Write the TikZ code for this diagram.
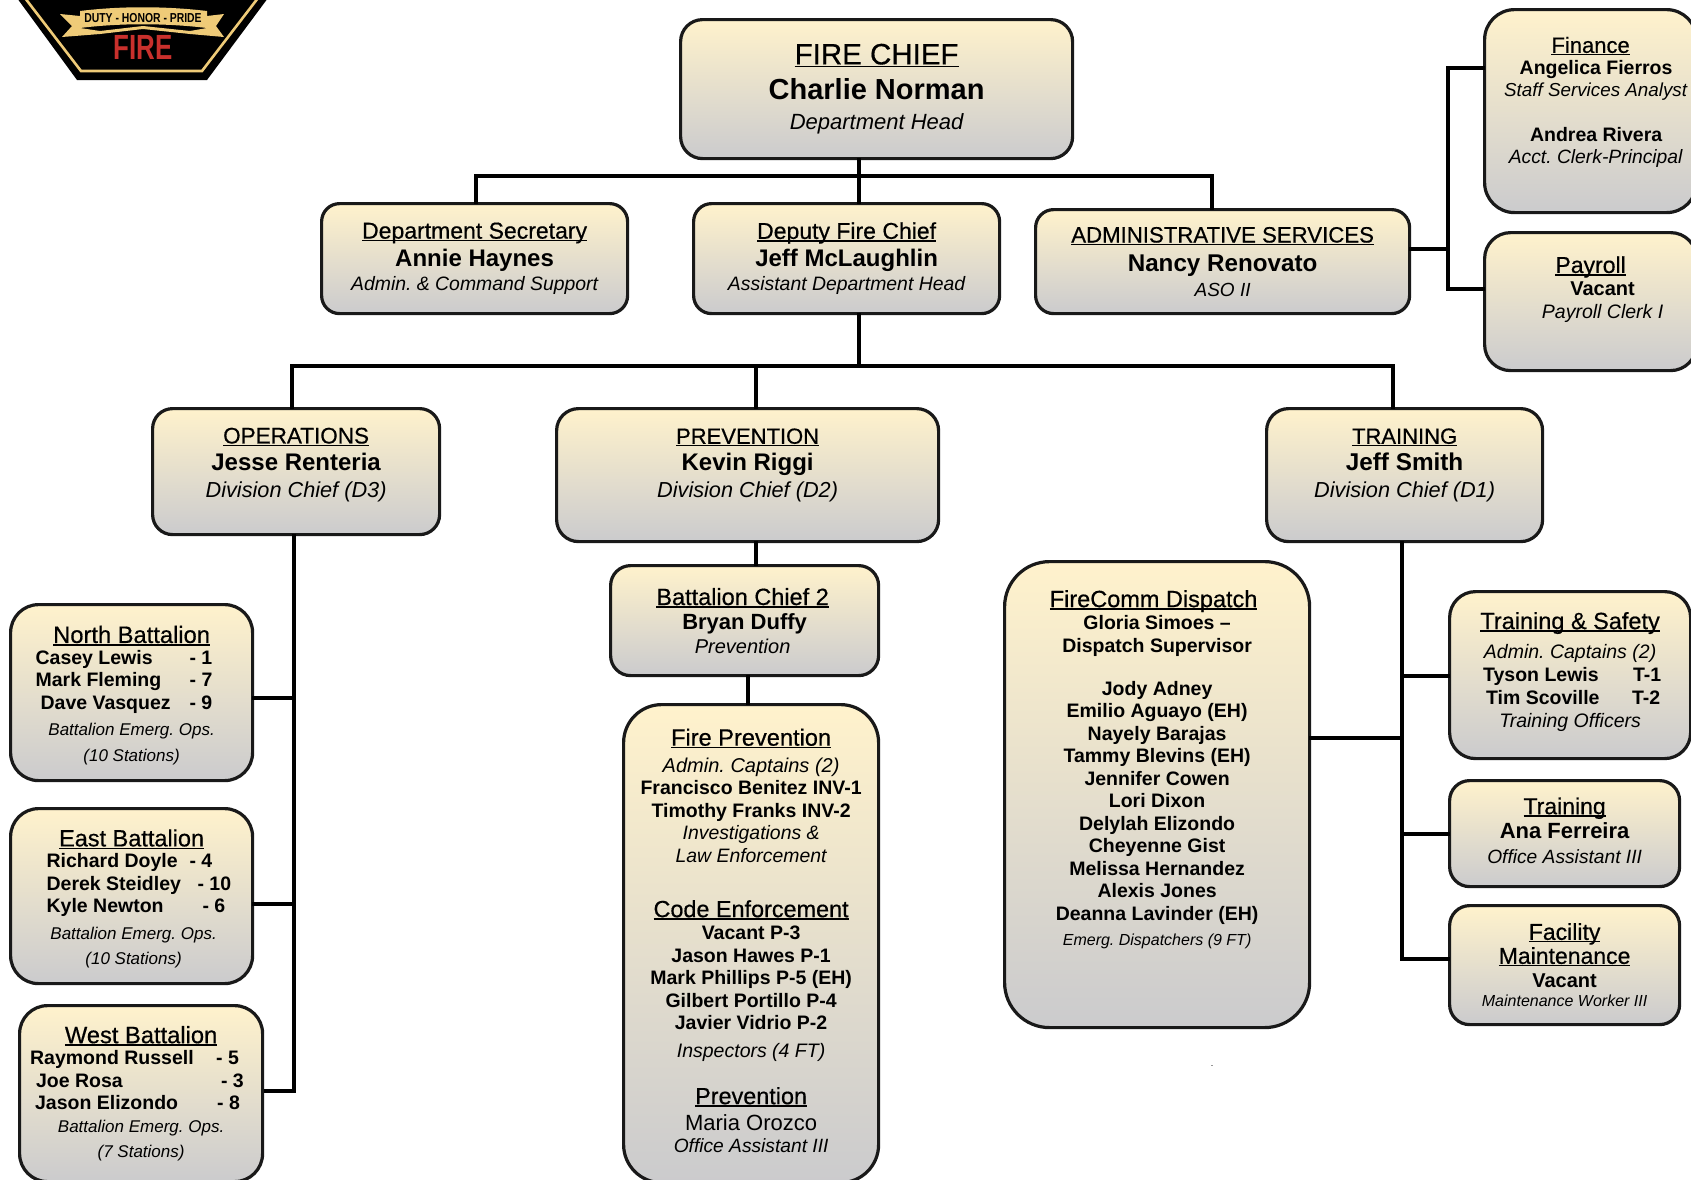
\documentclass[tikz,border=0pt]{standalone}
\usepackage{fontspec}
\setmainfont{Liberation Sans}
\newfontface\ttlface{Liberation Sans}[FakeBold=0.5]
\usetikzlibrary{positioning}
\frenchspacing

\definecolor{boxtop}{HTML}{FFF2CC}
\definecolor{boxbottom}{HTML}{CBCBCD}
\definecolor{badgegold}{HTML}{EFCB78}
\definecolor{badgered}{HTML}{C9302C}

% size only, the line distance stays that of the node
\newlength\ulw
\newcommand\fz[1]{\fontsize{#1}{\baselineskip}\selectfont}
\newcommand\ttl[2]{{\fz{#1}\ttlface\settowidth\ulw{#2}\rlap{\rule[-2.6pt]{\ulw}{1.4pt}}#2}}
\newcommand\nam[2]{{\fz{#1}\bfseries #2}}
\newcommand\rol[2]{{\fz{#1}\itshape #2}}
\newcommand\pad[1]{\\[#1]\mbox{}}
% total width, name start, name, number start, number
\newcommand\rowline[5]{\makebox[#1][l]{\hspace{#2}\rlap{\bfseries #3}\hspace{\dimexpr#4-#2\relax}\textbf{#5}}}

\tikzset{
  orgbox/.style={draw=black!90, line width=3.2pt, rounded corners=#1, top color=boxtop,
    bottom color=boxbottom, align=center, anchor=north west, inner sep=0pt,
    xshift=-1pt, yshift=1pt},
  bls/.style={font=\fontsize{20}{#1}\selectfont},
  conn/.style={line width=4.6pt, line cap=rect, draw=black}
}

\begin{document}
\begin{tikzpicture}[x=1pt,y=-1pt]
  \useasboundingbox (0,0) rectangle (1691,1179);

  % badge
  \fill[black] (17,-2) -- (77,80) -- (207,80) -- (268,-2) -- cycle;
  \draw[badgegold, line width=2.6pt] (25,-2) -- (81,71) -- (202,71) -- (258,-2);
  \fill[badgegold] (60,14) -- (80,16) -- (80,28) -- (100,31) -- (143,26) -- (190,31) -- (207,28) -- (207,16) -- (224,14) -- (216,26) -- (224,37) -- (190,34) -- (143,29) -- (100,34) -- (62,37) -- (72,26) -- cycle;
  \fill[badgegold] (80,11) .. controls (120,6) and (165,6) .. (207,11) -- (207,28) .. controls (165,23) and (120,23) .. (80,28) -- cycle;
  \node[font=\fontsize{13}{14}\selectfont\bfseries, xscale=.8, inner sep=0pt] (motto) at (143,18) {DUTY - HONOR - PRIDE};
  \node[font=\fontsize{35}{36}\selectfont\bfseries, text=badgered, xscale=.74, inner sep=0pt] (firemark) at (143,47) {FIRE};

  % top row
  \node[orgbox=22pt, minimum width=392pt, minimum height=139pt, bls=35pt] (chief) at (680,19)
    {\ttl{29.5}{FIRE CHIEF}\\\nam{29}{Charlie Norman}\\[-4.5pt]\rol{22}{Department Head}};
  \node[orgbox=18pt, minimum width=306pt, minimum height=110pt, bls=24pt] (secretary) at (321,203)
    {\ttl{23}{Department Secretary}\\[4pt]\nam{24}{Annie Haynes}\\\rol{19.4}{Admin. \& Command Support}};
  \node[orgbox=18pt, minimum width=306pt, minimum height=110pt, bls=24pt] (deputy) at (693,203)
    {\ttl{23}{Deputy Fire Chief}\\[4pt]\nam{24}{Jeff McLaughlin}\\\rol{19.4}{Assistant Department Head}};
  \node[orgbox=18pt, minimum width=374pt, minimum height=104pt, bls=25pt] (admin) at (1035,209)
    {\ttl{22.2}{ADMINISTRATIVE SERVICES}\\[3.5pt]\nam{24.2}{Nancy Renovato}\\\rol{19}{ASO II}};
  \node[orgbox=30pt, minimum width=212pt, minimum height=203pt, bls=22.5pt] (finance) at (1484,9)
    {\ttl{22}{Finance}\\[-1pt]\hspace*{11pt}\nam{19.5}{Angelica Fierros}\\\hspace*{10pt}\rol{18.8}{Staff Services Analyst}\\[22pt]\hspace*{11pt}\nam{19.5}{Andrea Rivera}\\\hspace*{10pt}\rol{19.3}{Acct. Clerk-Principal}\pad{-1pt}};
  \node[orgbox=26pt, minimum width=212pt, minimum height=138pt, bls=23pt] (payroll) at (1484,232)
    {\ttl{23}{Payroll}\\\hspace*{24pt}\nam{20}{Vacant}\\\hspace*{24pt}\rol{19.5}{Payroll Clerk I}\pad{5pt}};

  % divisions
  \node[orgbox=20pt, minimum width=287pt, minimum height=126pt, bls=27pt] (operations) at (152,408)
    {\ttl{22.5}{OPERATIONS}\\\nam{24}{Jesse Renteria}\\\rol{21.7}{Division Chief (D3)}\pad{-9pt}};
  \node[orgbox=22pt, minimum width=382pt, minimum height=133pt, bls=27pt] (prevention) at (556,408)
    {\ttl{22}{PREVENTION}\\\nam{24}{Kevin Riggi}\\\rol{21.7}{Division Chief (D2)}\pad{-3pt}};
  \node[orgbox=22pt, minimum width=276pt, minimum height=133pt, bls=27pt] (training) at (1266,408)
    {\ttl{22}{TRAINING}\\\nam{24.3}{Jeff Smith}\\\rol{21.7}{Division Chief (D1)}\pad{-3pt}};

  % operations side
  \node[orgbox=28pt, minimum width=242pt, minimum height=176pt, bls=22.5pt] (north) at (10,604)
    {\ttl{23.7}{North Battalion}\\[-1pt]\fz{19.5}\rowline{192pt}{0pt}{Casey Lewis}{154pt}{- 1}\\\fz{19.5}\rowline{192pt}{0pt}{Mark Fleming}{154pt}{- 7}\\\fz{19.5}\rowline{192pt}{5pt}{Dave Vasquez}{154pt}{- 9}\\[4pt]\rol{17}{Battalion Emerg. Ops.}\\[3pt]\rol{17}{(10 Stations)}\pad{-24.5pt}};
  \node[orgbox=28pt, minimum width=242pt, minimum height=175pt, bls=22.5pt] (east) at (10,808)
    {\ttl{23.5}{East Battalion}\\[-1pt]\fz{19.5}\rowline{170pt}{0pt}{Richard Doyle}{143pt}{- 4}\\\fz{19.5}\rowline{170pt}{0pt}{Derek Steidley}{151pt}{- 10}\\\fz{19.5}\rowline{170pt}{0pt}{Kyle Newton}{156pt}{- 6}\\[4pt]\hspace*{4pt}\rol{17}{Battalion Emerg. Ops.}\\[3pt]\hspace*{4pt}\rol{17}{(10 Stations)}\pad{-24.5pt}};
  \node[orgbox=28pt, minimum width=243pt, minimum height=176pt, bls=22.5pt] (west) at (19,1005)
    {\ttl{23.7}{West Battalion}\\[-1pt]\fz{19.5}\rowline{222pt}{0pt}{Raymond Russell}{186pt}{- 5}\\\fz{19.5}\rowline{222pt}{6pt}{Joe Rosa}{191pt}{- 3}\\\fz{19.5}\rowline{222pt}{5pt}{Jason Elizondo}{187pt}{- 8}\\\rol{17}{Battalion Emerg. Ops.}\\[3pt]\rol{17}{(7 Stations)}};

  % prevention side
  \node[orgbox=20pt, minimum width=268pt, minimum height=110pt, bls=24pt] (chieftwo) at (610,565)
    {\ttl{23.5}{Battalion Chief 2}\hspace*{4pt}\\\nam{22}{Bryan Duffy}\hspace*{4pt}\\\rol{20}{Prevention}\hspace*{4pt}};
  \node[orgbox=38pt, minimum width=255pt, minimum height=478pt, bls=22.5pt] (fireprev) at (623,704)
    {\ttl{23.6}{Fire Prevention}\\[4pt]\rol{20}{Admin. Captains (2)}\\\nam{19.5}{Francisco Benitez INV-1}\\\nam{19.5}{Timothy Franks INV-2}\\\rol{19.4}{Investigations \&}\\\rol{19.4}{Law Enforcement}\\[32.5pt]\ttl{23.4}{Code Enforcement}\\\nam{19.5}{Vacant P-3}\\\nam{19.5}{Jason Hawes P-1}\\\nam{19.5}{Mark Phillips P-5 (EH)}\\\nam{19.5}{Gilbert Portillo P-4}\\\nam{19.5}{Javier Vidrio P-2}\\[5.5pt]\rol{19.5}{Inspectors (4 FT)}\\[24pt]\ttl{23.4}{Prevention}\\[3.5pt]{\fz{22}Maria Orozco}\\\rol{19.2}{Office Assistant III}\pad{-16.5pt}};

  % dispatch
  \node[orgbox=45pt, minimum width=305pt, minimum height=466pt, bls=22.5pt] (firecomm) at (1004,561)
    {\ttl{23.5}{FireComm Dispatch}\hspace*{7pt}\\\nam{19.5}{Gloria Simoes --}\\\nam{19.5}{Dispatch Supervisor}\\[20.5pt]\nam{19.5}{Jody Adney}\\\nam{19.5}{Emilio Aguayo (EH)}\\\nam{19.5}{Nayely Barajas}\\\nam{19.5}{Tammy Blevins (EH)}\\\nam{19.5}{Jennifer Cowen}\\\nam{19.5}{Lori Dixon}\\\nam{19.5}{Delylah Elizondo}\\\nam{19.5}{Cheyenne Gist}\\\nam{19.5}{Melissa Hernandez}\\\nam{19.5}{Alexis Jones}\\\nam{19.5}{Deanna Lavinder (EH)}\\[3pt]\rol{16}{Emerg. Dispatchers (9 FT)}\pad{31pt}};

  % training side
  \node[orgbox=26pt, minimum width=241pt, minimum height=167pt, bls=23pt] (safety) at (1449,591)
    {\ttl{23.5}{Training \& Safety}\\[6pt]\rol{19.5}{Admin. Captains (2)}\\\fz{19.5}\rowline{174pt}{0pt}{Tyson Lewis}{150pt}{T-1}\\\fz{19.5}\rowline{174pt}{3pt}{Tim Scoville}{149pt}{T-2}\\\rol{19.5}{Training Officers}\pad{-12pt}};
  \node[orgbox=20pt, minimum width=230pt, minimum height=106pt, bls=24.5pt] (office) at (1449,780)
    {\ttl{23}{Training}\\\nam{22}{Ana Ferreira}\\\rol{19.2}{Office Assistant III}\pad{-18pt}};
  \node[orgbox=20pt, minimum width=230pt, minimum height=119pt, bls=24pt] (facility) at (1449,905)
    {\ttl{23}{Facility}\\\ttl{23}{Maintenance}\\\nam{20}{Vacant}\\[-5pt]\rol{16}{Maintenance Worker III}};

  % stray mark
  \node[inner sep=0pt, font=\fontsize{9}{10}\selectfont] (dot) at (1212,1066) {.};

  % junctions
  \coordinate (topbus) at (859,176);
  \coordinate (divbus) at (859,366);
  \coordinate (finbus) at (1448,249);
  \coordinate (opsbus) at (294,1091);
  \coordinate (trainbus) at (1402,959);

  % connectors
  \draw[conn] (topbus |- chief.south) -- (topbus);
  \draw[conn] (secretary.north -| 476,0) |- (topbus) -| (admin.north -| 1212,0);
  \draw[conn] (topbus) -- (topbus |- deputy.north);
  \draw[conn] (divbus |- deputy.south) -- (divbus);
  \draw[conn] (operations.north -| 292,0) |- (divbus) -| (training.north -| 1393,0);
  \draw[conn] (756,366) -- (prevention.north -| 756,0);
  \draw[conn] (prevention.south -| 756,0) -- (chieftwo.north -| 756,0);
  \draw[conn] (chieftwo.south -| 748,0) -- (fireprev.north -| 748,0);
  \draw[conn] (admin.east |- finbus) -- (finbus);
  \draw[conn, line width=3.4pt] (finance.west |- 0,68) -| (finbus) |- (payroll.west |- 0,289);
  \draw[conn] (opsbus |- operations.south) -- (opsbus) -- (266,1091);
  \draw[conn] (north.east |- 0,698) -- (opsbus |- 0,698);
  \draw[conn] (east.east |- 0,904) -- (opsbus |- 0,904);
  \draw[conn] (trainbus |- training.south) -- (trainbus) -- (facility.west |- trainbus);
  \draw[conn] (firecomm.east |- 0,738) -- (trainbus |- 0,738);
  \draw[conn] (trainbus |- 0,676) -- (safety.west |- 0,676);
  \draw[conn] (trainbus |- 0,834) -- (office.west |- 0,834);
\end{tikzpicture}
\end{document}
